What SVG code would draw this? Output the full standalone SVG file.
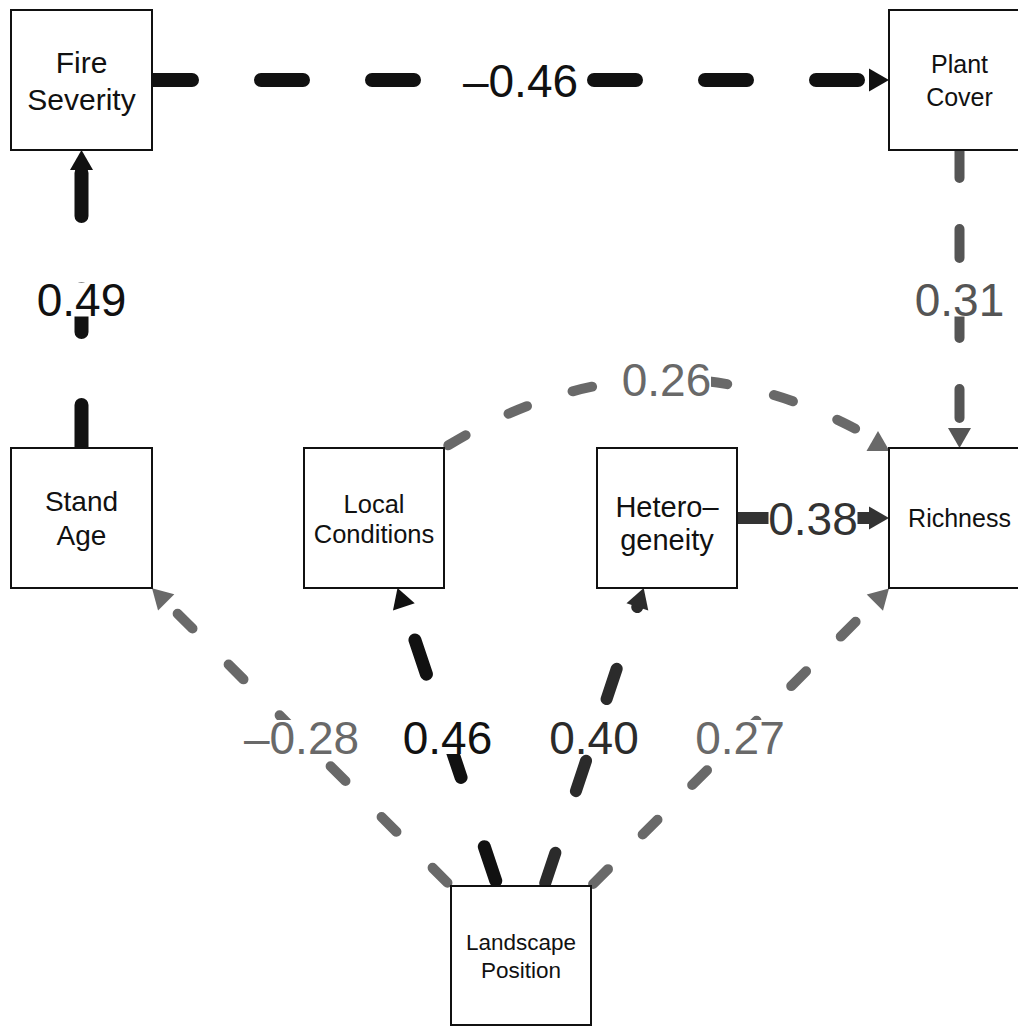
<svg xmlns="http://www.w3.org/2000/svg" width="1018" height="1026" viewBox="0 0 1018 1026">
<style>
  .node rect { fill:#ffffff; stroke:#111111; stroke-width:2; }
  .node text { font-family:"Liberation Sans", Arial, Helvetica, sans-serif; fill:#111111; text-anchor:middle; }
  .e { fill:none; stroke-linecap:round; }
  .lbg { fill:#ffffff; }
  .lbl { font-family:"Liberation Sans", Arial, Helvetica, sans-serif; font-size:46px; text-anchor:middle; }
</style>
<defs>
  <path id="ah" d="M0,0 L-20,-11.5 L-20,11.5 Z"/>
</defs>
<rect x="0" y="0" width="1018" height="1026" fill="#ffffff"/>
<g id="connectors">
  <g id="e-fire-plant">
    <path class="e" d="M150,80 L869,80" stroke="#111111" stroke-width="14" stroke-dasharray="42 69"/>
    <use href="#ah" transform="translate(889,80)" fill="#111111"/>
    <rect class="lbg" x="463" y="63" width="115" height="34"/>
    <text class="lbl" x="520.5" y="96.5" fill="#111111">–0.46</text>
  </g>
  <g id="e-stand-fire">
    <path class="e" d="M81.5,448 L81.5,170" stroke="#111111" stroke-width="14" stroke-dasharray="43 73"/>
    <use href="#ah" transform="translate(81.5,150) rotate(-90)" fill="#111111"/>
    <rect class="lbg" x="37" y="282.5" width="89" height="34"/>
    <text class="lbl" x="81.5" y="315.5" fill="#111111">0.49</text>
  </g>
  <g id="e-plant-rich">
    <path class="e" d="M959.5,149 L959.5,428" stroke="#555555" stroke-width="10" stroke-dasharray="29 51"/>
    <use href="#ah" transform="translate(959.5,448) rotate(90)" fill="#555555"/>
    <rect class="lbg" x="915" y="282.5" width="89" height="34"/>
    <text class="lbl" x="959.5" y="315.5" fill="#555555">0.31</text>
  </g>
  <g id="e-local-rich">
    <path class="e" d="M444,448 Q655.4,316.9 866.7,434.9" stroke="#696969" stroke-width="10" stroke-dasharray="20 48" stroke-dashoffset="-5"/>
    <use href="#ah" transform="translate(878,431) rotate(-90)" fill="#696969"/>
    <rect class="lbg" x="622" y="362" width="89" height="34"/>
    <text class="lbl" x="666.5" y="395.5" fill="#696969">0.26</text>
  </g>
  <g id="e-het-rich">
    <path d="M737,518 L869,518" fill="none" stroke="#333333" stroke-width="12"/>
    <use href="#ah" transform="translate(889,518)" fill="#333333"/>
    <rect class="lbg" x="768.5" y="501" width="89" height="34"/>
    <text class="lbl" x="813" y="534.5" fill="#333333">0.38</text>
  </g>
  <g id="e-land-stand">
    <path class="e" d="M451,886.2 L166.3,602.4" stroke="#696969" stroke-width="10" stroke-dasharray="21 51" stroke-dashoffset="-5"/>
    <use href="#ah" transform="translate(152,588.3) rotate(-135.1)" fill="#696969"/>
    <rect class="lbg" x="244" y="720" width="115" height="34"/>
    <text class="lbl" x="301.5" y="753.5" fill="#696969">–0.28</text>
  </g>
  <g id="e-land-local">
    <path class="e" d="M497.5,886 L403.9,607" stroke="#111111" stroke-width="13" stroke-dasharray="36 73" stroke-dashoffset="-5.5"/>
    <use href="#ah" transform="translate(397.5,588) rotate(-108.55)" fill="#111111"/>
    <rect class="lbg" x="403" y="720" width="89" height="34"/>
    <text class="lbl" x="447.5" y="753.5" fill="#111111">0.46</text>
  </g>
  <g id="e-land-het">
    <path class="e" d="M544.3,886 L638.5,603.3" stroke="#2b2b2b" stroke-width="12" stroke-dasharray="32 65" stroke-dashoffset="-3"/>
    <use href="#ah" transform="translate(643.7,588) rotate(-71.57)" fill="#2b2b2b"/>
    <rect class="lbg" x="549.5" y="720" width="89" height="34"/>
    <text class="lbl" x="594" y="753.5" fill="#2b2b2b">0.40</text>
  </g>
  <g id="e-land-rich">
    <path class="e" d="M591,886.1 L874.9,602.5" stroke="#696969" stroke-width="10" stroke-dasharray="21 49" stroke-dashoffset="-3"/>
    <use href="#ah" transform="translate(889,588.4) rotate(-44.97)" fill="#696969"/>
    <rect class="lbg" x="695.5" y="720" width="89" height="34"/>
    <text class="lbl" x="740" y="753.5" fill="#696969">0.27</text>
  </g>
</g>
<g id="n-fire" class="node">
  <rect x="11" y="10" width="141" height="140"/>
  <text x="81.5" y="73" font-size="30">Fire</text>
  <text x="81.5" y="110" font-size="30">Severity</text>
</g>
<g id="n-plant" class="node">
  <rect x="889" y="10" width="141" height="140"/>
  <text x="959.5" y="73" font-size="25">Plant</text>
  <text x="959.5" y="106" font-size="25">Cover</text>
</g>
<g id="n-stand" class="node">
  <rect x="11" y="448" width="141" height="140"/>
  <text x="81.5" y="511" font-size="28">Stand</text>
  <text x="81.5" y="545" font-size="28">Age</text>
</g>
<g id="n-local" class="node">
  <rect x="304" y="448" width="140" height="140"/>
  <text x="374" y="513" font-size="25.5">Local</text>
  <text x="374" y="543" font-size="25.5">Conditions</text>
</g>
<g id="n-het" class="node">
  <rect x="597" y="448" width="140" height="140"/>
  <text x="667" y="517" font-size="29">Hetero–</text>
  <text x="667" y="550" font-size="29">geneity</text>
</g>
<g id="n-rich" class="node">
  <rect x="889" y="448" width="141" height="140"/>
  <text x="959.5" y="527" font-size="25">Richness</text>
</g>
<g id="n-land" class="node">
  <rect x="451" y="886" width="140" height="139"/>
  <text x="521" y="950" font-size="22.5">Landscape</text>
  <text x="521" y="978" font-size="22.5">Position</text>
</g>
</svg>
